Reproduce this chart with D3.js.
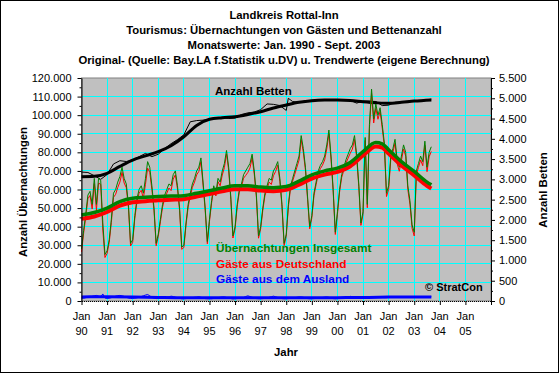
<!DOCTYPE html>
<html>
<head>
<meta charset="utf-8">
<script src="https://cdn.jsdelivr.net/npm/d3@7"></script>
<style>
  body { margin: 0; background: #fff; }
  svg { display: block; }
  text { font-family: "Liberation Sans", Arial, sans-serif; }
</style>
</head>
<body>
<svg id="chart" width="560" height="374"></svg>
<script>
// titles
const titleLines = [
    "Landkreis Rottal-Inn",
    "Tourismus: Übernachtungen von Gästen und Bettenanzahl",
    "Monatswerte: Jan. 1990 - Sept. 2003",
    "Original- (Quelle: Bay.LA f.Statistik u.DV) u. Trendwerte (eigene Berechnung)"
];

// monthly overnight stays in thousands, Jan 1990 - Sep 2003
let totalStays = [
    28, 38, 47, 57, 59, 52, 66, 52, 66, 65, 42, 25,      // 1990
    27, 33, 44, 58, 60, 64, 67, 72, 66, 63, 52, 31,      // 1991
    33, 46, 55, 60, 62, 58, 66, 75, 72, 62, 50, 31,      // 1992
    36, 44, 52, 57, 60, 63, 62, 68, 70, 62, 50, 29,      // 1993
    30, 42, 52, 58, 63, 66, 70, 72, 77, 64, 50, 32,      // 1994
    44, 54, 62, 58, 66, 64, 70, 74, 81, 72, 56, 35,      // 1995
    40, 52, 60, 63, 68, 70, 72, 74, 79, 70, 57, 35,      // 1996
    40, 50, 58, 62, 66, 65, 70, 72, 75, 66, 52, 31,      // 1997
    36, 52, 62, 66, 70, 74, 78, 89, 82, 72, 56, 40,      // 1998
    46, 58, 64, 70, 73, 75, 78, 84, 92, 78, 60, 37,      // 1999
    48, 60, 68, 72, 76, 79, 82, 84, 89, 79, 63, 42,      // 2000
    48, 88, 52, 95, 114, 98, 106, 100, 104, 95, 85, 58,  // 2001
    62, 78, 82, 87, 76, 72, 78, 84, 80, 62, 54, 41,      // 2002
    37, 70, 74, 78, 75, 86, 72, 80, 83                   // 2003
];
let germanStays = [
    26.4, 36.5, 45.2, 55.0, 56.8, 49.5, 63.2, 49.0, 63.4, 62.8, 38.2, 23.4,
    25.6, 31.5, 42.2, 55.8, 57.4, 61.1, 64.0, 69.2, 63.5, 61.0, 50.4, 29.6,
    31.6, 44.5, 53.3, 58.0, 59.6, 55.2, 62.8, 71.5, 69.2, 60.0, 48.5, 29.7,
    34.7, 42.6, 50.5, 55.3, 58.0, 60.8, 59.4, 65.6, 67.9, 60.2, 48.6, 27.8,
    28.8, 40.7, 50.6, 56.4, 61.2, 64.0, 67.9, 69.7, 75.0, 62.3, 48.7, 30.8,
    42.8, 52.8, 60.6, 56.5, 64.2, 62.0, 67.8, 71.8, 79.1, 70.4, 54.7, 33.9,
    38.8, 50.7, 58.6, 61.4, 66.1, 67.6, 69.2, 71.6, 77.0, 68.3, 55.7, 33.8,
    38.8, 48.7, 56.6, 60.4, 64.0, 62.7, 67.4, 69.7, 73.1, 64.4, 50.7, 29.8,
    34.8, 50.7, 60.6, 64.5, 68.2, 72.0, 75.8, 86.8, 80.0, 70.4, 54.7, 38.8,
    44.8, 56.7, 62.6, 68.4, 71.2, 73.1, 75.9, 81.8, 90.0, 76.3, 58.7, 35.8,
    46.7, 58.6, 66.5, 70.3, 74.1, 76.9, 79.5, 81.7, 86.9, 77.2, 61.6, 40.7,
    46.6, 86.4, 50.2, 92.9, 111.7, 95.8, 103.6, 97.8, 102.0, 93.1, 83.2, 56.2,
    60.1, 76.0, 80.0, 84.9, 73.9, 69.8, 75.7, 81.8, 77.9, 60.0, 52.1, 39.1,
    35.0, 68.0, 71.9, 75.9, 72.8, 83.8, 69.6, 77.6, 80.5
];
let foreignStays = [
    1.6, 1.5, 1.8, 2.0, 2.2, 2.5, 2.8, 3.0, 2.6, 2.2, 3.8, 1.6,
    1.4, 1.5, 1.8, 2.2, 2.6, 2.9, 3.0, 2.8, 2.5, 2.0, 1.6, 1.4,
    1.4, 1.5, 1.7, 2.0, 2.4, 2.8, 3.2, 3.5, 2.8, 2.0, 1.5, 1.3,
    1.3, 1.4, 1.5, 1.7, 2.0, 2.2, 2.6, 2.4, 2.1, 1.8, 1.4, 1.2,
    1.2, 1.3, 1.4, 1.6, 1.8, 2.0, 2.1, 2.3, 2.0, 1.7, 1.3, 1.2,
    1.2, 1.2, 1.4, 1.5, 1.8, 2.0, 2.2, 2.2, 1.9, 1.6, 1.3, 1.1,
    1.2, 1.3, 1.4, 1.6, 1.9, 2.4, 2.8, 2.4, 2.0, 1.7, 1.3, 1.2,
    1.2, 1.3, 1.4, 1.6, 2.0, 2.3, 2.6, 2.3, 1.9, 1.6, 1.3, 1.2,
    1.2, 1.3, 1.4, 1.5, 1.8, 2.0, 2.2, 2.2, 2.0, 1.6, 1.3, 1.2,
    1.2, 1.3, 1.4, 1.6, 1.8, 1.9, 2.1, 2.2, 2.0, 1.7, 1.3, 1.2,
    1.3, 1.4, 1.5, 1.7, 1.9, 2.1, 2.5, 2.3, 2.1, 1.8, 1.4, 1.3,
    1.4, 1.6, 1.8, 2.1, 2.3, 2.2, 2.4, 2.2, 2.0, 1.9, 1.8, 1.8,
    1.9, 2.0, 2.0, 2.1, 2.1, 2.2, 2.3, 2.2, 2.1, 2.0, 1.9, 1.9,
    2.0, 2.0, 2.1, 2.1, 2.2, 2.2, 2.4, 2.4, 2.5
];

// trend values (thousands)
let trendYears = [1990, 1990.5, 1991, 1991.5, 1992, 1992.5, 1993, 1993.5, 1994, 1994.5,
    1995, 1995.5, 1996, 1996.5, 1997, 1997.5, 1998, 1998.5, 1999, 1999.5,
    2000, 2000.5, 2001, 2001.5, 2001.75, 2002, 2002.5, 2003, 2003.5, 2003.67];
let totalTrend = [46.3, 47.6, 50.0, 53.5, 55.3, 55.8, 56.2, 56.5, 56.7, 58.0,
    59.3, 60.8, 62.0, 62.0, 61.3, 61.0, 61.6, 64.5, 67.9, 70.0,
    71.5, 74.5, 80.4, 85.3, 84.6, 81.4, 75.0, 69.7, 64.0, 62.5];
let germanTrend = [44.2, 45.5, 47.9, 51.3, 53.1, 53.7, 54.2, 54.5, 54.8, 56.2,
    57.5, 59.0, 60.2, 60.1, 59.4, 59.1, 59.8, 62.6, 65.9, 68.0,
    69.5, 72.5, 78.3, 83.2, 82.5, 79.3, 72.9, 67.6, 62.0, 60.5];
let foreignTrendYears = [1990, 1991, 1992, 1993, 1994, 1995, 1996, 1997, 1998, 1999, 2000, 2001, 2002, 2003, 2003.67];
let foreignTrend = [2.2, 2.3, 2.2, 1.9, 1.7, 1.7, 1.7, 1.7, 1.7, 1.7, 1.8, 1.9, 2.1, 2.2, 2.2];

// beds (right axis)
let bedYears = [1990, 1990.25, 1990.5, 1990.75, 1991, 1991.25, 1991.5, 1991.75,
    1992, 1992.25, 1992.5, 1992.75, 1993, 1993.25, 1993.5, 1993.75,
    1994, 1994.25, 1994.5, 1994.75, 1995, 1995.25, 1995.5, 1995.75,
    1996, 1996.25, 1996.5, 1996.75, 1997, 1997.25, 1997.5, 1997.75,
    1998, 1998.08, 1998.25, 1998.5, 1998.75, 1999, 1999.25, 1999.5, 1999.75,
    2000, 2000.25, 2000.5, 2000.75, 2001, 2001.25, 2001.5, 2001.75,
    2002, 2002.25, 2002.5, 2002.75, 2003, 2003.25, 2003.5, 2003.67];
let beds = [3180, 3170, 3090, 3000, 3120, 3380, 3460, 3440,
    3480, 3560, 3640, 3560, 3620, 3760, 3880, 3980,
    4100, 4420, 4450, 4460, 4480, 4520, 4530, 4500,
    4510, 4600, 4640, 4660, 4720, 4860, 4850, 4820,
    4700, 5000, 4920, 4900, 4940, 4950, 4960, 4960, 4960,
    4960, 4960, 4950, 4880, 4930, 4930, 4920, 4820,
    4830, 4900, 4910, 4930, 4940, 4950, 4960, 4980];
let bedTrendYears = [1990, 1990.5, 1991, 1991.5, 1992, 1992.5, 1993, 1993.5, 1994, 1994.5,
    1995, 1995.5, 1996, 1996.5, 1997, 1997.5, 1998, 1998.5, 1999, 1999.5,
    2000, 2000.5, 2001, 2001.5, 2002, 2002.5, 2003, 2003.67];
let bedTrend = [3065, 3075, 3150, 3320, 3477, 3580, 3682, 3830, 4050, 4330,
    4481, 4520, 4545, 4600, 4668, 4760, 4834, 4900, 4940, 4955,
    4957, 4945, 4915, 4890, 4875, 4900, 4930, 4960];

let xYears = d3.range(1990, 2007);
let legendItems = [
    { text: "Übernachtungen Insgesamt", color: "#008000" },
    { text: "Gäste aus Deutschland", color: "#ff0000" },
    { text: "Gäste aus dem Ausland", color: "#0000ff" }
];

// german number format
let de = d3.formatLocale({ decimal: ",", thousands: ".", grouping: [3], currency: ["", " €"] });
let fmt = de.format(",");

let svg = d3.select("#chart");
let plot = { left: 81.5, right: 491, top: 78, bottom: 301 };

let x = d3.scaleLinear().domain([1990, 2006]).range([plot.left, plot.right]);
let yL = d3.scaleLinear().domain([0, 120]).range([plot.bottom, plot.top]);
let yR = d3.scaleLinear().domain([0, 5500]).range([plot.bottom, plot.top]);

let monthX = i => 1990 + i / 12;

// outer frame
svg.append("rect")
    .attr("x", 0.5).attr("y", 0.5)
    .attr("width", 558).attr("height", 372)
    .attr("fill", "#fff").attr("stroke", "#000").attr("stroke-width", 1);

// titles
svg.selectAll("text.title").data(titleLines).enter().append("text")
    .attr("class", "title")
    .attr("x", 284)
    .attr("y", (d, i) => 19 + i * 15)
    .attr("text-anchor", "middle")
    .attr("font-size", "11.3px")
    .attr("font-weight", "bold")
    .text(d => d);

// plot background
svg.append("rect")
    .attr("x", plot.left).attr("y", plot.top)
    .attr("width", plot.right - plot.left).attr("height", plot.bottom - plot.top)
    .attr("fill", "#c0c0c0").attr("stroke", "#808080");

// grid
let grid = svg.append("g").attr("shape-rendering", "crispEdges");
grid.selectAll("line.h").data(d3.range(10, 120, 10)).enter().append("line")
    .attr("x1", plot.left).attr("x2", plot.right)
    .attr("y1", d => yL(d)).attr("y2", d => yL(d))
    .attr("stroke", "#00ffff");
grid.selectAll("line.v").data(xYears.slice(1, -1)).enter().append("line")
    .attr("x1", d => x(d)).attr("x2", d => x(d))
    .attr("y1", plot.top).attr("y2", plot.bottom)
    .attr("stroke", "#00ffff");

// lines
let lineMonthly = d3.line().x((d, i) => x(monthX(i))).y(d => yL(d));
let lineTrend = years => d3.line().x((d, i) => x(years[i])).y(d => yL(d)).curve(d3.curveMonotoneX);
let lineBeds = years => d3.line().x((d, i) => x(years[i])).y(d => yR(d)).curve(d3.curveMonotoneX);

svg.append("path").datum(beds)
    .attr("d", d3.line().x((d, i) => x(bedYears[i])).y(d => yR(d)))
    .attr("fill", "none").attr("stroke", "#000").attr("stroke-width", 1);
svg.append("path").datum(bedTrend)
    .attr("d", lineBeds(bedTrendYears))
    .attr("fill", "none").attr("stroke", "#000").attr("stroke-width", 3);

svg.append("path").datum(germanStays)
    .attr("d", lineMonthly)
    .attr("fill", "none").attr("stroke", "#ff0000").attr("stroke-width", 1);
svg.append("path").datum(totalStays)
    .attr("d", lineMonthly)
    .attr("fill", "none").attr("stroke", "#008000").attr("stroke-width", 1);

svg.append("path").datum(germanTrend)
    .attr("d", lineTrend(trendYears))
    .attr("fill", "none").attr("stroke", "#ff0000").attr("stroke-width", 4);
svg.append("path").datum(totalTrend)
    .attr("d", lineTrend(trendYears))
    .attr("fill", "none").attr("stroke", "#008000").attr("stroke-width", 3.5);

svg.append("path").datum(foreignStays)
    .attr("d", lineMonthly)
    .attr("fill", "none").attr("stroke", "#0000ff").attr("stroke-width", 1);
svg.append("path").datum(foreignTrend)
    .attr("d", lineTrend(foreignTrendYears))
    .attr("fill", "none").attr("stroke", "#0000ff").attr("stroke-width", 3);

// axes
function styleAxis(g) {
    g.selectAll("text").attr("font-size", "11px").attr("font-family", "Liberation Sans, Arial, sans-serif").attr("fill", "#000");
    g.selectAll("line").attr("stroke", "#000");
    g.select(".domain").attr("stroke", "#000");
}

svg.append("g").attr("transform", `translate(${plot.left},0)`)
    .call(d3.axisLeft(yL).tickValues(d3.range(5, 120, 10)).tickSize(2).tickFormat(""))
    .call(g => g.select(".domain").remove())
    .call(styleAxis);
svg.append("g").attr("transform", `translate(${plot.left},0)`)
    .call(d3.axisLeft(yL).tickValues(d3.range(0, 121, 10)).tickSize(4).tickSizeOuter(0).tickPadding(6).tickFormat(d => fmt(d * 1000)))
    .call(styleAxis);

svg.append("g").attr("transform", `translate(${plot.right},0)`)
    .call(d3.axisRight(yR).tickValues(d3.range(250, 5500, 500)).tickSize(2).tickFormat(""))
    .call(g => g.select(".domain").remove())
    .call(styleAxis);
svg.append("g").attr("transform", `translate(${plot.right},0)`)
    .call(d3.axisRight(yR).tickValues(d3.range(0, 5501, 500)).tickSize(4).tickSizeOuter(0).tickPadding(4).tickFormat(d => fmt(d)))
    .call(styleAxis);

let xAxis = svg.append("g").attr("transform", `translate(0,${plot.bottom})`)
    .call(d3.axisBottom(x).tickValues(xYears).tickSize(4).tickSizeOuter(0).tickFormat(""))
    .call(styleAxis);
xAxis.select(".domain").attr("stroke-dasharray", "1,1");

let xLabels = svg.append("g");
xYears.slice(0, -1).forEach(yr => {
    let t = xLabels.append("text")
        .attr("x", x(yr)).attr("y", 320)
        .attr("text-anchor", "middle")
        .attr("font-size", "11px");
    t.append("tspan").attr("x", x(yr)).text("Jan");
    t.append("tspan").attr("x", x(yr)).attr("dy", 15).text(String(yr).slice(2));
});

// axis titles
svg.append("text")
    .attr("x", 286).attr("y", 356)
    .attr("text-anchor", "middle")
    .attr("font-size", "11.3px").attr("font-weight", "bold")
    .text("Jahr");
svg.append("text")
    .attr("transform", "translate(27,192) rotate(-90)")
    .attr("text-anchor", "middle")
    .attr("font-size", "11.3px").attr("font-weight", "bold")
    .text("Anzahl Übernachtungen");
svg.append("text")
    .attr("transform", "translate(547,190) rotate(-90)")
    .attr("text-anchor", "middle")
    .attr("font-size", "11.3px").attr("font-weight", "bold")
    .text("Anzahl Betten");

// in-plot labels
svg.append("text")
    .attr("x", 215).attr("y", 95)
    .attr("font-size", "11.5px").attr("font-weight", "bold")
    .text("Anzahl Betten");

svg.selectAll("text.legend").data(legendItems).enter().append("text")
    .attr("class", "legend")
    .attr("x", 216)
    .attr("y", (d, i) => 252 + i * 15.5)
    .attr("font-size", "11.8px").attr("font-weight", "bold")
    .attr("fill", d => d.color)
    .text(d => d.text);

svg.append("text")
    .attr("x", 425).attr("y", 291)
    .attr("font-size", "11px").attr("font-weight", "bold")
    .text("© StratCon");
</script>
</body>
</html>
